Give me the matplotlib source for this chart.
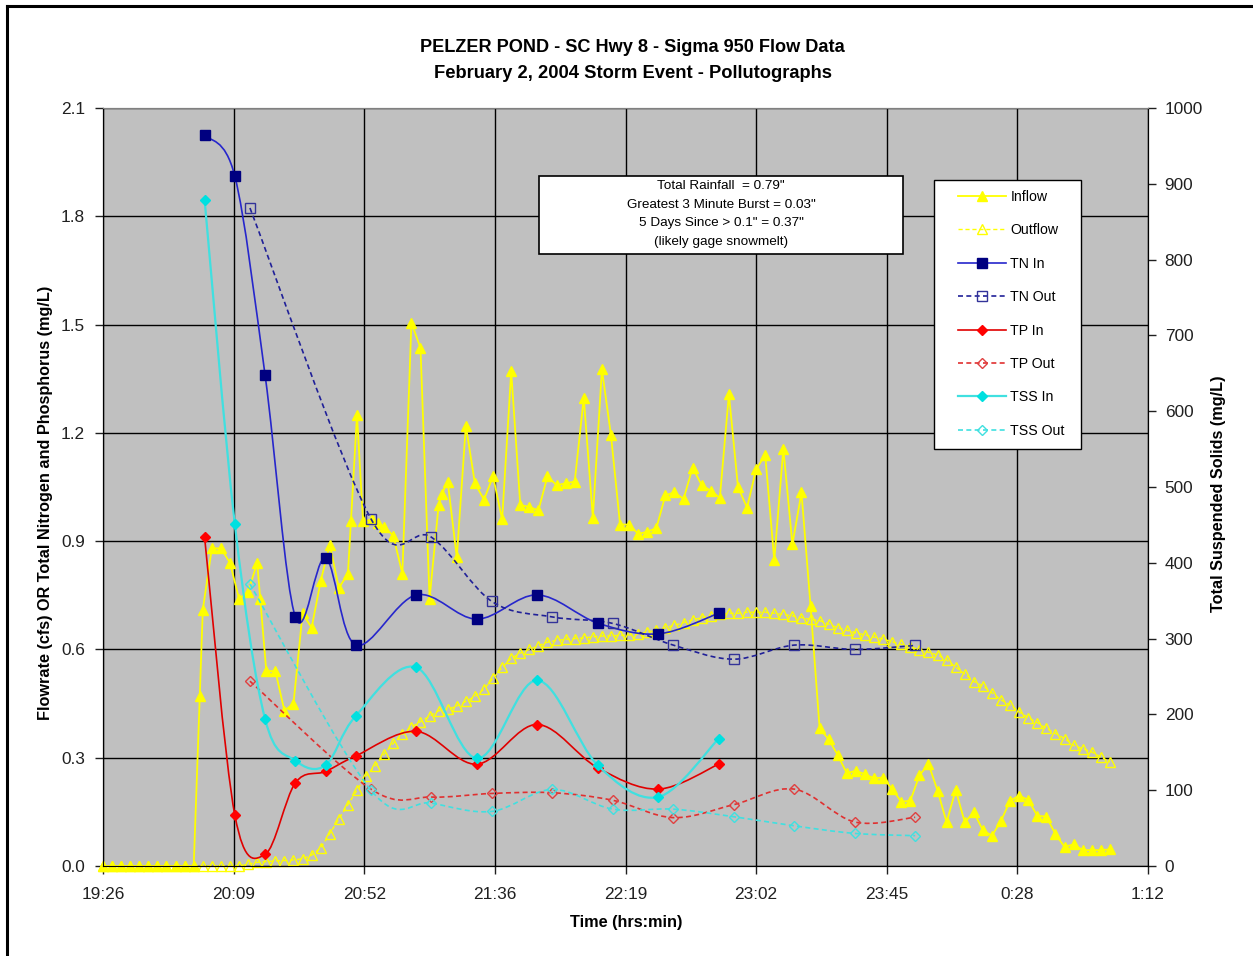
import numpy as np
import matplotlib
matplotlib.use("Agg")
from matplotlib import pyplot as plt
from matplotlib.path import Path
from matplotlib.patches import PathPatch, Rectangle
from matplotlib.lines import Line2D

plt.rcParams['font.family'] = ['Liberation Sans', 'DejaVu Sans']

# time in minutes after 19:26 (axis start); ticks every 43.2 min
tick_labels = ["19:26", "20:09", "20:52", "21:36", "22:19", "23:02", "23:45", "0:28", "1:12"]

inflow_time = [0, 3, 6, 9, 12, 15, 18, 21, 24, 27, 30,
               32, 33, 36, 39, 42, 45, 48, 51, 52, 54, 57, 60, 63, 66, 69, 72, 75, 78, 81, 82,
               84, 86, 89, 91, 93, 96, 99, 102, 105, 108, 111, 112, 114,
               117, 120, 123, 126, 129, 132, 135, 138, 141, 144, 147, 150, 153, 156, 159, 162,
               165, 168, 171, 174, 177, 180, 183, 186, 189, 192, 195, 198, 201, 204, 207, 210,
               213, 216, 219, 222, 225, 228, 231, 234, 237, 240, 243, 246, 249, 252, 255, 258,
               261, 264, 267, 270, 273, 276, 279, 282, 285, 288, 291, 294, 297, 300, 303, 306,
               309, 312, 315, 318, 321, 324, 327, 330, 333]
inflow_cfs = [0, 0, 0, 0, 0, 0, 0, 0, 0, 0, 0,
              0.47, 0.71, 0.88, 0.88, 0.84, 0.74, 0.76, 0.84, 0.74, 0.54, 0.54, 0.43, 0.45, 0.70, 0.66,
              0.79, 0.89, 0.77, 0.81, 0.955, 1.25, 0.955, 0.96, 0.95, 0.94, 0.915, 0.81, 1.505, 1.435,
              0.74, 1.0, 1.03, 1.065,
              0.855, 1.22, 1.06, 1.015, 1.08, 0.96, 1.37, 1.0, 0.995, 0.985, 1.08, 1.055, 1.06, 1.065,
              1.297, 0.965, 1.376, 1.193, 0.946, 0.946, 0.92, 0.926, 0.936, 1.027, 1.035, 1.017,
              1.104, 1.055, 1.04, 1.02, 1.307, 1.05, 0.993, 1.099, 1.139, 0.847, 1.156, 0.891,
              1.035, 0.72, 0.381, 0.351, 0.307, 0.257, 0.264, 0.254, 0.243, 0.245, 0.213, 0.178,
              0.181, 0.251, 0.283, 0.209, 0.121, 0.211, 0.121, 0.149, 0.099, 0.084, 0.125, 0.181,
              0.195, 0.183, 0.139, 0.137, 0.088, 0.053, 0.06, 0.044, 0.044, 0.044, 0.046]

outflow_time = list(range(0, 336, 3))
outflow_cfs = [0, 0, 0, 0, 0, 0, 0, 0, 0, 0, 0, 0, 0, 0, 0, 0,
               0.005, 0.01, 0.012, 0.014, 0.015, 0.017, 0.02, 0.03,
               0.05, 0.09, 0.13, 0.17, 0.21, 0.25, 0.277, 0.31, 0.34, 0.365, 0.385, 0.40, 0.415,
               0.43, 0.434, 0.443, 0.456, 0.47, 0.49, 0.52, 0.55, 0.575, 0.59, 0.60, 0.61, 0.62,
               0.625, 0.628, 0.63, 0.632, 0.635, 0.637, 0.638, 0.639, 0.64, 0.643, 0.648, 0.653,
               0.66, 0.667, 0.674, 0.682, 0.688, 0.693, 0.697, 0.70, 0.70, 0.703, 0.703, 0.703,
               0.70, 0.697, 0.693, 0.688, 0.683, 0.68, 0.67, 0.66, 0.653, 0.646, 0.64, 0.634,
               0.629, 0.621, 0.614, 0.607, 0.599, 0.592, 0.585, 0.571, 0.551, 0.532, 0.511, 0.499,
               0.48, 0.46, 0.446, 0.427, 0.411, 0.397, 0.381, 0.367, 0.353, 0.334, 0.325, 0.316,
               0.302, 0.288]

# grab samples
in_time = [33.6, 43.6, 53.6, 63.6, 73.6, 83.6, 103.6, 123.6, 143.6, 163.6, 183.6, 203.6]
out_time = [48.6, 88.6, 108.6, 128.6, 148.6, 168.6, 188.6, 208.6, 228.6, 248.6, 268.6]

tn_in = [2.025, 1.911, 1.36, 0.69, 0.853, 0.612, 0.751, 0.684, 0.751, 0.673, 0.643, 0.70]
tn_out = [1.823, 0.962, 0.911, 0.733, 0.69, 0.672, 0.612, 0.573, 0.612, 0.600, 0.611]
tp_in = [0.911, 0.141, 0.032, 0.23, 0.262, 0.305, 0.373, 0.282, 0.392, 0.272, 0.213, 0.282]
tp_out = [0.512, 0.213, 0.191, 0.201, 0.203, 0.182, 0.134, 0.170, 0.213, 0.122, 0.135]
tss_in = [879, 451, 194, 139, 133, 198, 262, 142, 245, 133, 91, 168]
tss_out = [372, 100, 83, 72, 101, 75, 75, 65, 53, 43, 40]


def smooth_path(x, y):
    # bezier through the points, like Excel's smoothed line
    pts = np.column_stack([x, y]).astype(float)
    n = len(pts)
    verts = [pts[0]]
    codes = [Path.MOVETO]
    for i in range(n - 1):
        p0 = pts[i - 1] if i > 0 else pts[i]
        p1 = pts[i]
        p2 = pts[i + 1]
        p3 = pts[i + 2] if i + 2 < n else pts[i + 1]
        verts += [p1 + (p2 - p0) / 6, p2 - (p3 - p1) / 6, p2]
        codes += [Path.CURVE4] * 3
    return Path(verts, codes)


def smooth_series(axis, x, y, color, ls, mk, mfc, mec, ms, lw=1.2):
    axis.add_patch(PathPatch(smooth_path(x, y), fill=False, edgecolor=color, lw=lw, ls=ls, zorder=3))
    axis.plot(x, y, ls='none', marker=mk, mfc=mfc, mec=mec, ms=ms, mew=1.0, zorder=4)


fig = plt.figure(figsize=(12.53, 9.56), dpi=100)
ax = fig.add_axes([103 / 1253, 1 - 866 / 956, 1045 / 1253, 758 / 956])
ax2 = ax.twinx()

ax.set_facecolor('#C0C0C0')
ax2.patch.set_visible(False)
ax.set_xlim(0, 345.6)
ax.set_ylim(0, 2.1)
ax2.set_ylim(0, 1000)

ax.set_xticks([43.2 * k for k in range(9)])
ax.set_xticklabels(tick_labels)
ax.set_yticks([0.3 * k for k in range(8)])
ax.set_yticklabels(['%.1f' % (0.3 * k) for k in range(8)])
ax2.set_yticks(range(0, 1001, 100))
ax.grid(True, color='black', lw=1.0)
ax.set_axisbelow(True)

for a in (ax, ax2):
    a.tick_params(direction='out', length=6, width=1, labelsize=12.4, colors='#202020')
    for s in a.spines.values():
        s.set_color('black')
    a.spines['top'].set_color('#808080')
ax.tick_params(axis='y', pad=7)
ax.tick_params(axis='x', pad=9)
ax2.tick_params(axis='y', pad=6)

# flow
ax.plot(inflow_time, inflow_cfs, color='#FFFF00', lw=1.3, marker='^', ms=7, mfc='#FFFF00', mec='#FFFF00',
        zorder=3, clip_on=False)
ax.plot(outflow_time, outflow_cfs, color='#FFFF00', lw=1.0, ls=(0, (3, 2)), marker='^', ms=7,
        mfc='none', mec='#FFFF00', zorder=3, clip_on=False)

# nitrogen / phosphorus
smooth_series(ax, in_time, tn_in, '#2626CC', '-', 's', '#000080', '#000080', 6.5)
smooth_series(ax, out_time, tn_out, '#202098', (0, (3, 2)), 's', 'none', '#333399', 6.5)
smooth_series(ax, in_time, tp_in, '#E00000', '-', 'D', '#FF0000', '#FF0000', 5)
smooth_series(ax, out_time, tp_out, '#E03030', (0, (3, 2)), 'D', 'none', '#E04040', 5)

# suspended solids on right axis
smooth_series(ax2, in_time, tss_in, '#40E0E0', '-', 'D', '#00E0E0', '#00E0E0', 5, lw=1.6)
smooth_series(ax2, out_time, tss_out, '#40E0E0', (0, (3, 2)), 'D', 'none', '#40E0E0', 5)

fig.text(632 / 1253, 1 - 48 / 956, 'PELZER POND - SC Hwy 8 - Sigma 950 Flow Data',
         ha='center', va='center', fontsize=13.1, fontweight='bold')
fig.text(633 / 1253, 1 - 73 / 956, 'February 2, 2004 Storm Event - Pollutographs',
         ha='center', va='center', fontsize=13.2, fontweight='bold')
fig.text(626 / 1253, 1 - 922 / 956, 'Time (hrs:min)', ha='center', va='center', fontsize=11.7, fontweight='bold')
fig.text(46 / 1253, 1 - 503 / 956, 'Flowrate (cfs) OR Total Nitrogen and Phosphorus (mg/L)',
         ha='center', va='center', rotation=90, fontsize=11.7, fontweight='bold')
fig.text(1218 / 1253, 1 - 494 / 956, 'Total Suspended Solids (mg/L)',
         ha='center', va='center', rotation=90, fontsize=11.7, fontweight='bold')

# rainfall note
fig.patches.append(Rectangle((539 / 1253, 1 - 254 / 956), 364 / 1253, 78 / 956, transform=fig.transFigure,
                             facecolor='white', edgecolor='black', lw=1.2, zorder=5))
fig.text(721 / 1253, 1 - 214 / 956,
         'Total Rainfall  = 0.79"\nGreatest 3 Minute Burst = 0.03"\n5 Days Since > 0.1" = 0.37"\n(likely gage snowmelt)',
         ha='center', va='center', fontsize=9.7, linespacing=1.72, zorder=6)

handles = [
    Line2D([], [], color='#FFFF00', lw=1.3, marker='^', ms=7, mfc='#FFFF00', mec='#FFFF00'),
    Line2D([], [], color='#FFFF00', lw=1.0, ls=(0, (3, 2)), marker='^', ms=7, mfc='none', mec='#FFFF00'),
    Line2D([], [], color='#2626CC', lw=1.2, marker='s', ms=6.5, mfc='#000080', mec='#000080'),
    Line2D([], [], color='#202098', lw=1.2, ls=(0, (3, 2)), marker='s', ms=6.5, mfc='none', mec='#333399'),
    Line2D([], [], color='#E00000', lw=1.2, marker='D', ms=5, mfc='#FF0000', mec='#FF0000'),
    Line2D([], [], color='#E03030', lw=1.2, ls=(0, (3, 2)), marker='D', ms=5, mfc='none', mec='#E04040'),
    Line2D([], [], color='#40E0E0', lw=1.6, marker='D', ms=5, mfc='#00E0E0', mec='#00E0E0'),
    Line2D([], [], color='#40E0E0', lw=1.2, ls=(0, (3, 2)), marker='D', ms=5, mfc='none', mec='#40E0E0'),
]
labels = ['Inflow', 'Outflow', 'TN In', 'TN Out', 'TP In', 'TP Out', 'TSS In', 'TSS Out']

# legend frame drawn separately so its size matches the original box
fig.patches.append(Rectangle((934 / 1253, 1 - 449 / 956), 147 / 1253, 269 / 956, transform=fig.transFigure,
                             facecolor='white', edgecolor='black', lw=1.0, zorder=5))
leg = fig.legend(handles, labels, loc='upper left', bbox_to_anchor=(958 / 1253, 1 - 190 / 956),
                 bbox_transform=fig.transFigure, fontsize=10.2, frameon=False,
                 labelspacing=1.37, handlelength=3.4, handletextpad=0.3, borderpad=0, borderaxespad=0)
leg.set_zorder(6)

# outer frame of the chart area (left and top edges visible)
fig.add_artist(Line2D([7 / 1253, 7 / 1253], [0, 1 - 6 / 956], color='black', lw=2.2, transform=fig.transFigure))
fig.add_artist(Line2D([7 / 1253, 1], [1 - 6 / 956, 1 - 6 / 956], color='black', lw=2.2, transform=fig.transFigure))

fig.savefig('out.png', dpi=100)
